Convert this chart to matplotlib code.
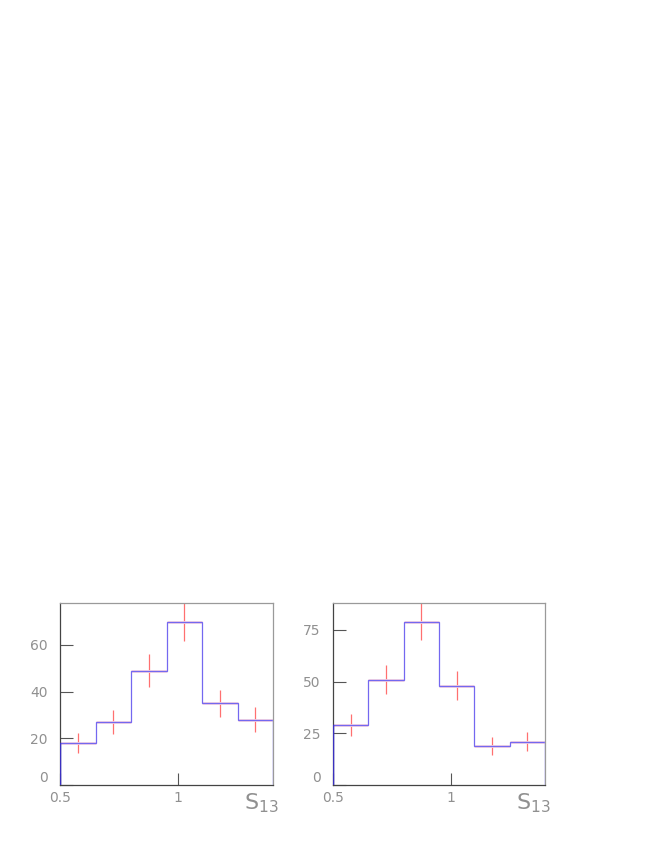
import matplotlib.pyplot as plt
import numpy as np

# bin edges shared by both panels (S13)
edges = [0.5, 0.65, 0.8, 0.95, 1.1, 1.25, 1.4]

# left panel
left_counts = [18, 27, 49, 70, 35, 28]
left_errors = [4.3, 5.2, 7.0, 8.4, 5.9, 5.3]

# right panel
right_counts = [29, 51, 79, 48, 19, 21]
right_errors = [5.4, 7.1, 8.9, 6.9, 4.4, 4.6]

grey = '#909090'


def draw_panel(ax, counts, errors, ymax, yticks):
    centers = [(edges[i] + edges[i + 1]) / 2 for i in range(len(counts))]
    # red data points with errors
    ax.errorbar(centers, counts, yerr=errors, fmt='none', ecolor='#ff7070',
                elinewidth=0.9, capsize=0, zorder=2)
    ax.hlines(counts, edges[:-1], edges[1:], color='#f4d0e0', lw=2.0, zorder=2)
    # blue histogram
    ax.stairs(counts, edges, color='#7468f0', lw=0.9, baseline=0, zorder=3)
    ax.plot([edges[0], edges[0]], [0, counts[0]], color='#3a30c0', lw=1.0, zorder=3)
    ax.plot([edges[-1], edges[-1]], [0, counts[-1]], color='#c8c4ff', lw=1.0, zorder=3)

    ax.set_xlim(0.5, 1.4)
    ax.set_ylim(0, ymax)
    ax.set_xticks([0.5, 1])
    ax.set_xticklabels(['0.5', '1'])
    ax.set_yticks(yticks)
    ax.set_yticklabels([str(t) for t in yticks])
    ax.tick_params(axis='both', direction='in', length=9, width=0.8, color='#555555',
                   labelcolor=grey, labelsize=10)
    ax.tick_params(axis='y', pad=9)
    ax.tick_params(axis='x', pad=4)
    for lbl in ax.get_yticklabels()[:1]:
        lbl.set_va('bottom')
    for side in ['left', 'bottom']:
        ax.spines[side].set_color('#444444')
        ax.spines[side].set_linewidth(0.9)
    for side in ['top', 'right']:
        ax.spines[side].set_color('#9a9a9a')
        ax.spines[side].set_linewidth(0.9)
    ax.text(1.025, -0.035, r'$\mathregular{S_{13}}$', transform=ax.transAxes,
            ha='right', va='top', fontsize=16, color=grey)


fig = plt.figure(figsize=(6.54, 8.46), dpi=100)

ax1 = fig.add_axes([60 / 654, 61 / 846, 213 / 654, 182 / 846])
draw_panel(ax1, left_counts, left_errors, 78, [0, 20, 40, 60])

ax2 = fig.add_axes([333 / 654, 61 / 846, 212 / 654, 182 / 846])
draw_panel(ax2, right_counts, right_errors, 88, [0, 25, 50, 75])

fig.savefig('out.png', dpi=100)
